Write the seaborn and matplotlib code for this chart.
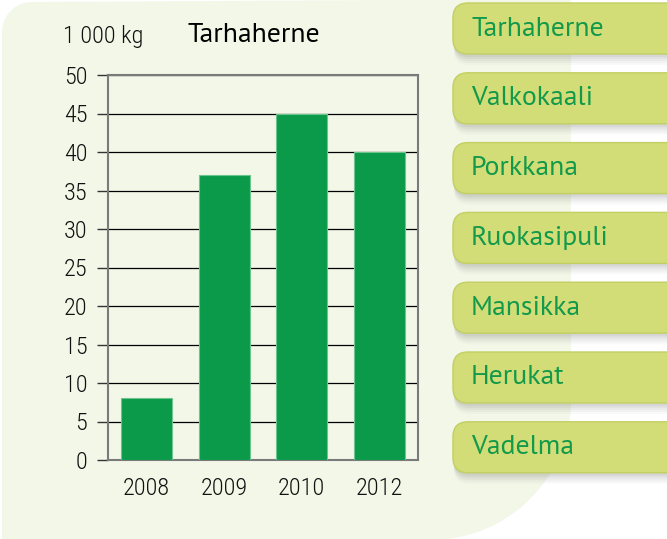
import numpy as np
import matplotlib
matplotlib.use('Agg')
import matplotlib.pyplot as plt
from matplotlib.patches import FancyBboxPatch, Polygon
import seaborn as sns

# data
years = ['2008', '2009', '2010', '2012']
amounts = [8, 37, 45, 40]
y_ticks = [0, 5, 10, 15, 20, 25, 30, 35, 40, 45, 50]
chart_title = 'Tarhaherne'
unit_label = '1 000 kg'
buttons = ['Tarhaherne', 'Valkokaali', 'Porkkana', 'Ruokasipuli',
           'Mansikka', 'Herukat', 'Vadelma']

BAR_GREEN = '#0a9a4a'
CREAM = '#f3f7e8'
BUTTON = '#d2dd78'
BUTTON_TEXT = '#13994a'

sns.set_theme(style='white')
plt.rcParams['font.family'] = ['PT Sans', 'DejaVu Sans']
narrow = ['Roboto Condensed', 'DejaVu Sans']

W, H = 667, 539
fig = plt.figure(figsize=(W / 100, H / 100), dpi=100)
fig.patch.set_facecolor('white')

# background layer in pixel coordinates (y down)
bg = fig.add_axes([0, 0, 1, 1], zorder=-1)
bg.set_xlim(0, W)
bg.set_ylim(H, 0)
bg.axis('off')

# cream panel with rounded top-left and curved bottom-right
t1 = np.linspace(np.pi, 1.5 * np.pi, 20)
top_left = np.c_[32 + 30 * np.cos(t1), 32 + 30 * np.sin(t1)]
t2 = np.linspace(0, np.arcsin(0.995), 30)
bottom_right = np.c_[431 + 140 * np.cos(t2), 400 + 140 * np.sin(t2)]
pts = np.vstack([[[2, H + 2]], top_left, [[571, -1]], bottom_right, [[2, H + 2]]])
bg.add_patch(Polygon(pts, closed=True, facecolor=CREAM, edgecolor='none'))

# side buttons
for i, name in enumerate(buttons):
    top = 3 + 69.8 * i
    for k, a in enumerate([0.07, 0.06, 0.05, 0.04, 0.03]):
        bg.add_patch(FancyBboxPatch((453 + 1, top + 3 + 2 * k), 230, 51,
                                    boxstyle='round,pad=0,rounding_size=15',
                                    facecolor='#555555', edgecolor='none', alpha=a))
    bg.add_patch(FancyBboxPatch((453, top), 230, 51,
                                boxstyle='round,pad=0,rounding_size=15',
                                facecolor=BUTTON, edgecolor='#c2cf62', lw=1))
    bg.text(471, top + 25.5, name, color=BUTTON_TEXT, fontsize=20,
            va='center', ha='left')

bg.text(63, 36, unit_label, fontsize=17.5, family=narrow, weight='light',
        color='#111111', va='center', ha='left')
bg.text(187, 35, chart_title, fontsize=20, color='black', va='center', ha='left')

# bar chart
ax = fig.add_axes([108 / W, 1 - 460 / H, 310 / W, 385 / H])
ax.set_facecolor('none')
sns.barplot(x=years, y=amounts, color=BAR_GREEN, saturation=1, width=0.66,
            edgecolor='#6cc58c', linewidth=0.8, ax=ax, zorder=3)
ax.set_ylim(0, 50)
ax.set_xlim(-0.5, 3.5)
ax.set_yticks(y_ticks)
ax.yaxis.grid(True, color='black', lw=0.9)
ax.set_axisbelow(True)
for s in ax.spines.values():
    s.set_visible(True)
    s.set_color('#7a7a7a')
    s.set_linewidth(1.5)
ax.tick_params(axis='y', left=True, length=8, width=1, color='#333333',
               pad=7, labelsize=17.5, labelcolor='#111111')
ax.tick_params(axis='x', bottom=False, pad=6, labelsize=17.5, labelcolor='#111111')
for lab in ax.get_xticklabels() + ax.get_yticklabels():
    lab.set_family(narrow)
    lab.set_weight('light')
ax.set_xlabel('')
ax.set_ylabel('')

fig.savefig('out.png', dpi=100)
